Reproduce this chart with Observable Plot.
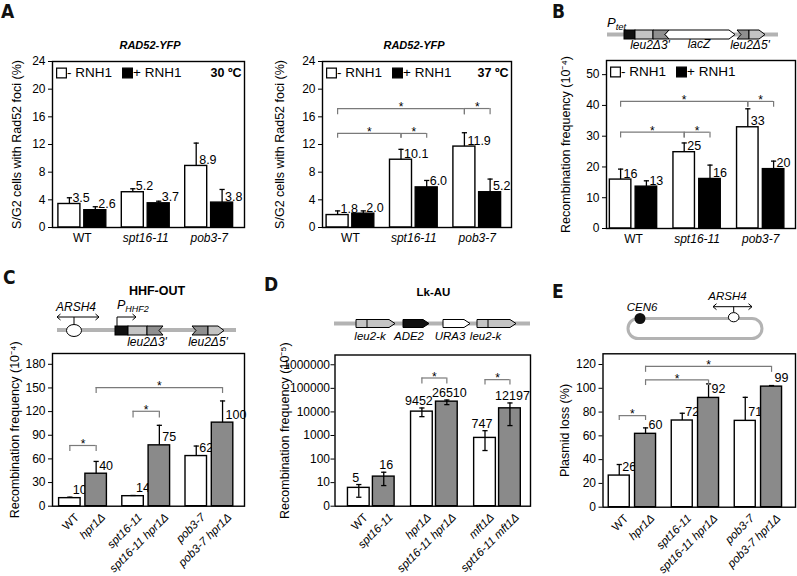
<!DOCTYPE html>
<html><head><meta charset="utf-8">
<script src="https://cdn.jsdelivr.net/npm/d3@7"></script>
<script src="https://cdn.jsdelivr.net/npm/@observablehq/plot@0.6"></script>
<style>
body{margin:0;background:#fff;}
#fig{position:relative;width:797px;height:576px;overflow:hidden;font-family:"Liberation Sans",Arial,Helvetica,sans-serif;background:#fff;}
#fig svg{position:absolute;}
</style></head><body><div id="fig">
<svg id="ov" width="797" height="576" style="left:0;top:0" font-family='"Liberation Sans", Arial, sans-serif'>
 <g font-family='"Liberation Sans Narrow","DejaVu Sans Condensed","Liberation Sans",sans-serif' font-weight="bold" font-size="19" fill="#111">
  <text x="1" y="18">A</text><text x="552" y="18">B</text><text x="3" y="284">C</text><text x="264" y="291">D</text><text x="552" y="298">E</text>
 </g>
 <g font-weight="bold" font-style="italic" font-size="11" text-anchor="middle">
  <text x="150" y="49">RAD52-YFP</text><text x="414" y="49">RAD52-YFP</text>
 </g>
 <text x="157" y="295" font-weight="bold" font-size="12.5" text-anchor="middle">HHF-OUT</text>
 <text x="433.5" y="296" font-weight="bold" font-size="11.5" text-anchor="middle">Lk-AU</text>
 <!-- B schematic -->
 <line x1="607" y1="34.5" x2="778" y2="34.5" stroke="#b3b3b3" stroke-width="4"/>
 <g stroke="#000" stroke-width="1">
  <rect x="624" y="30" width="11" height="9" fill="#111"/>
  <rect x="635" y="30" width="18" height="9" fill="#c4c4c4"/>
  <polygon points="653,30 669,30 665,34.5 669,39 653,39" fill="#8f8f8f"/>
  <polygon points="669,30 729,30 735,34.5 729,39 669,39 665,34.5" fill="#fff"/>
  <polygon points="737,30 749,30 749,39 737,39 741,34.5" fill="#8f8f8f"/>
  <polygon points="749,30 759,30 765,34.5 759,39 749,39" fill="#c4c4c4"/>
 </g>
 <g font-style="italic" font-size="12" text-anchor="middle">
  <text x="650" y="49">leu2Δ3'</text><text x="699" y="48">lacZ</text><text x="750" y="49">leu2Δ5'</text>
 </g>
 <text x="607" y="27" font-style="italic" font-size="13">P<tspan font-size="9.5" dy="3">tet</tspan></text>
 <!-- C schematic -->
 <line x1="57" y1="330" x2="236" y2="330" stroke="#b3b3b3" stroke-width="4"/>
 <g stroke="#000" stroke-width="1" fill="none">
  <line x1="74" y1="324.5" x2="74" y2="317"/>
  <line x1="57" y1="317" x2="99" y2="317"/>
  <polyline points="60.5,314 57,317 60.5,320"/><polyline points="95.5,314 99,317 95.5,320"/>
  <polyline points="117,326 117,317 136,317"/><polyline points="132.5,314 136,317 132.5,320"/>
 </g>
 <g stroke="#000" stroke-width="1">
  <ellipse cx="74" cy="330.5" rx="7.5" ry="6" fill="#fff"/>
  <rect x="115" y="326" width="13" height="9" fill="#111"/>
  <rect x="128" y="326" width="19" height="9" fill="#c4c4c4"/>
  <polygon points="147,326 163,326 159,330.5 163,335 147,335" fill="#8f8f8f"/>
  <polygon points="192,326 208,326 208,335 192,335 196,330.5" fill="#8f8f8f"/>
  <polygon points="208,326 218,326 224,330.5 218,335 208,335" fill="#c4c4c4"/>
 </g>
 <g font-style="italic" font-size="12" text-anchor="middle">
  <text x="76" y="311">ARSH4</text><text x="147" y="346">leu2Δ3'</text><text x="208" y="346">leu2Δ5'</text>
 </g>
 <text x="117" y="309" font-style="italic" font-size="12.5">P<tspan font-size="9" dy="3">HHF2</tspan></text>
 <!-- D schematic -->
 <line x1="334" y1="323.5" x2="530" y2="323.5" stroke="#b3b3b3" stroke-width="4"/>
 <g stroke="#000" stroke-width="1">
  <polygon points="356,319.5 389,319.5 395,323.5 389,327.5 356,327.5" fill="#c4c4c4"/>
  <line x1="367" y1="319.5" x2="367" y2="327.5"/>
  <polygon points="403,319.5 423,319.5 429,323.5 423,327.5 403,327.5" fill="#111"/>
  <polygon points="443,319.5 464,319.5 470,323.5 464,327.5 443,327.5" fill="#fff"/>
  <polygon points="477,319.5 510,319.5 516,323.5 510,327.5 477,327.5" fill="#c4c4c4"/>
  <line x1="488" y1="319.5" x2="488" y2="327.5"/>
 </g>
 <g font-style="italic" font-size="11.5" text-anchor="middle">
  <text x="370" y="339.5">leu2-k</text><text x="409" y="339.5">ADE2</text><text x="450" y="339.5">URA3</text><text x="485.5" y="339.5">leu2-k</text>
 </g>
 <!-- E schematic -->
 <rect x="628" y="318.5" width="134" height="20" rx="10" fill="none" stroke="#b3b3b3" stroke-width="3"/>
 <circle cx="640" cy="318.5" r="5.5" fill="#111"/>
 <g stroke="#000" stroke-width="1" fill="none">
  <line x1="733.7" y1="312.5" x2="733.7" y2="306.7"/>
  <line x1="713" y1="306.7" x2="752" y2="306.7"/>
  <polyline points="716.5,303.7 713,306.7 716.5,309.7"/><polyline points="748.5,303.7 752,306.7 748.5,309.7"/>
 </g>
 <ellipse cx="733.7" cy="317.2" rx="5.3" ry="4.6" fill="#fff" stroke="#000" stroke-width="1"/>
 <g font-style="italic" font-size="11.5" text-anchor="middle">
  <text x="642" y="310.5">CEN6</text><text x="727.5" y="300">ARSH4</text>
 </g>
</svg>
</div>
<script>
// ---------------- data ----------------
const strainsAB = ["WT", "spt16-11", "pob3-7"];
const rnh1Series = ["- RNH1", "+ RNH1"];
// order per strain: [- RNH1, + RNH1]
const a30Values = [3.4, 2.5, 5.1, 3.5, 8.9, 3.6];
const a30ErrTop = [4.3, 3.0, 5.6, 3.8, 12.2, 5.5];
const a30Labels = ["3.5", "2.6", "5.2", "3.7", "8.9", "3.8"];

const a37Values = [1.8, 2.0, 9.8, 5.8, 11.7, 5.1];
const a37ErrTop = [2.4, 2.4, 11.3, 6.8, 13.7, 7.0];
const a37Labels = ["1.8", "2.0", "10.1", "6.0", "11.9", "5.2"];
const a37Brackets = [[0, 4, 17.2, 16.3], [4, 5, 17.2, 16.3], [0, 2, 13.6, 12.9], [2, 3, 13.6, 12.9]];

const bValues = [15.9, 13.6, 24.8, 16.1, 32.9, 19.3];
const bErrTop = [19.3, 15.5, 27.8, 20.6, 38.9, 21.9];
const bLabels = ["16", "13", "25", "16", "33", "20"];
const bBrackets = [[0, 4, 41.3, 39.4], [4, 5, 41.3, 39.4], [0, 2, 31.3, 29.4], [2, 3, 31.3, 29.4]];

const cStrains = ["WT", "hpr1Δ", "spt16-11", "spt16-11 hpr1Δ", "pob3-7", "pob3-7 hpr1Δ"];
const cValues = [10.2, 41.2, 12.7, 77.2, 63.6, 106];
const cErrTop = [11.5, 56.8, 13.6, 102.6, 76.3, 133.5];
const cLabels = ["10", "40", "14", "75", "62", "100"];
const cBrackets = [[0, 1, 77, 69.5], [2, 3, 120.4, 112], [1, 5, 150.5, 143]];

const dStrains = ["WT", "spt16-11", "hpr1Δ", "spt16-11 hpr1Δ", "mft1Δ", "spt16-11 mft1Δ"];
const dValues = [6.0, 18, 10300, 27300, 790, 14200];
const dErrLow = [2.4, 7.5, 6300, 20400, 230, 2630];
const dErrTop = [8.3, 27.6, 14700, 32000, 1600, 24000];
const dLabels = ["5", "16", "9452", "26510", "747", "12197"];
const dBrackets = [[2, 3, 275000, 154000], [4, 5, 234000, 139000]];

const eStrains = ["WT", "hpr1Δ", "spt16-11", "spt16-11 hpr1Δ", "pob3-7", "pob3-7 hpr1Δ"];
const eValues = [26.6, 61.7, 72.9, 91.9, 72.6, 101.4];
const eErrTop = [35.9, 66.7, 79, 103.7, 92.4, 102.3];
const eLabels = ["26", "60", "72", "92", "71", "99"];
const eBrackets = [[0, 1, 77, 72.9], [1, 3, 107, 102.3], [1, 5, 118.5, 113.4]];

const ticksA = [0, 4, 8, 12, 16, 20, 24];
const ticksB = [0, 10, 20, 30, 40, 50];
const ticksC = [0, 30, 60, 90, 120, 150, 180];
const ticksD = [1, 10, 100, 1000, 10000, 100000, 1000000];
const ticksE = [0, 20, 40, 60, 80, 100, 120];

// ---------------- drawing ----------------
const FONT = '"Liberation Sans", Arial, Helvetica, sans-serif';
const GREY = "#8a8a8a";
const BRK = "#7a7a7a";
const capSym = {draw(ctx) { ctx.moveTo(-2.6, 0); ctx.lineTo(2.6, 0); }};
const keysAB = strainsAB.flatMap(s => rnh1Series.map(r => s + " " + r));
const namesAB = strainsAB.flatMap(s => rnh1Series.map(() => s));

function panel(o) {
  const L = o.layout;
  const n = o.values.length;
  const rows = o.values.map((v, i) => ({
    key: o.keys[i], name: o.names[i], series: i % 2, value: v,
    top: o.errTop[i], low: o.errLow ? o.errLow[i] : v, label: o.labels[i]
  }));
  const dOf = s => (s === 0 ? L.d : -L.d);
  const base = o.log ? 1 : 0;
  const marks = [];
  for (const s of [0, 1]) {
    const r = rows.filter(d => d.series === s);
    const dx = dOf(s);
    marks.push(
      Plot.barY(r, {x: "key", y1: base, y2: "value", fill: s === 0 ? "white" : o.fill2, stroke: "black", strokeWidth: 1.4, dx}),
      Plot.ruleX(r, {x: "key", y1: o.errLow ? "low" : "value", y2: "top", stroke: "black", strokeWidth: 1.3, dx}),
      Plot.dot(r, {x: "key", y: "top", symbol: capSym, stroke: "black", strokeWidth: 1.3, fill: "none", dx})
    );
    if (o.errLow) marks.push(Plot.dot(r, {x: "key", y: "low", symbol: capSym, stroke: "black", strokeWidth: 1.3, fill: "none", dx}));
    const ldx = Array.isArray(o.labelDx) ? o.labelDx[s] : o.labelDx;
    marks.push(Plot.text(r, {x: "key", y: o.labelAt, text: "label", textAnchor: o.labelAnchor, lineAnchor: "bottom",
      dx: dx + ldx, dy: o.labelDy, fontSize: 12.5, fill: "black"}));
  }
  // category labels
  if (o.rotate) {
    for (const s of [0, 1]) for (const roman of [true, false]) {
      const r = rows.filter(d => d.series === s && (d.name === "WT") === roman);
      if (!r.length) continue;
      marks.push(Plot.text(r, {x: "key", text: "name", frameAnchor: "bottom", rotate: -45, textAnchor: "end", lineAnchor: "top",
        dx: dOf(s) + 4, dy: 6, fontSize: 11.5, fontStyle: roman ? "normal" : "italic", fill: "black"}));
    }
  } else {
    for (const roman of [true, false]) {
      const r = rows.filter(d => d.series === 0 && (d.name === "WT") === roman);
      marks.push(Plot.text(r, {x: "key", text: "name", frameAnchor: "bottom", lineAnchor: "top",
        dx: dOf(0) + (L.step - 2 * L.d) / 2, dy: 6, fontSize: 12, fontStyle: roman ? "normal" : "italic", fill: "black"}));
    }
  }
  // significance brackets
  for (const [i, j, level, low] of o.brackets || []) {
    const b = {from: o.keys[i], to: o.keys[j], level, low};
    const di = dOf(i % 2), dj = dOf(j % 2);
    marks.push(
      Plot.ruleY([b], {y: "level", x1: "from", x2: "to", insetLeft: L.bw / 2 + di, insetRight: L.bw / 2 - dj, stroke: BRK, strokeWidth: 1.2}),
      Plot.ruleX([b], {x: "from", y1: "level", y2: "low", dx: di, stroke: BRK, strokeWidth: 1.2}),
      Plot.ruleX([b], {x: "to", y1: "level", y2: "low", dx: dj, stroke: BRK, strokeWidth: 1.2}),
      Plot.text([b], {x: "from", y: "level", text: () => "*", dx: (di + (j - i) * L.step + dj) / 2, dy: -1, lineAnchor: "middle", fontSize: 12, fill: "black"})
    );
  }
  // legend
  if (o.legend) {
    marks.push(
      Plot.dot([0], {frameAnchor: "top-left", dx: 9, dy: 11.5, symbol: "square", r: 5.5, fill: "white", stroke: "black", strokeWidth: 1.2}),
      Plot.text([rnh1Series[0]], {frameAnchor: "top-left", dx: 14.5, dy: 11.5, textAnchor: "start", lineAnchor: "middle", fontSize: 13.5, fill: "black"}),
      Plot.dot([0], {frameAnchor: "top-left", dx: 75, dy: 11.5, symbol: "square", r: 5.5, fill: "black", stroke: "black", strokeWidth: 1.2}),
      Plot.text([rnh1Series[1]], {frameAnchor: "top-left", dx: 80.5, dy: 11.5, textAnchor: "start", lineAnchor: "middle", fontSize: 13.5, fill: "black"})
    );
    if (o.temp) marks.push(Plot.text([o.temp], {frameAnchor: "top-right", dx: -3, dy: 11.5, textAnchor: "end", lineAnchor: "middle", fontWeight: "bold", fontSize: 12.5, fill: "black"}));
  }
  // axes, label, frame
  marks.push(
    Plot.axisY({ticks: o.ticks, tickSize: 4, tickPadding: o.tickPadding ?? 3, label: null, fontSize: 12,
      tickFormat: o.tickFormat, fill: "black", stroke: "black"}),
    Plot.text([o.ylabel], {frameAnchor: "left", rotate: -90, dx: L.ylDx, textAnchor: "middle", lineAnchor: "middle", fontSize: 12.5, fill: "black"}),
    Plot.frame({stroke: "black", strokeWidth: 1.4})
  );
  const svg = Plot.plot({
    width: L.w, height: L.h,
    marginLeft: L.mL, marginRight: L.mR, marginTop: L.mT, marginBottom: L.mB,
    x: {type: "band", domain: o.keys, range: [L.c0 - L.bw / 2, L.c0 + (n - 1) * L.step + L.bw / 2],
        paddingInner: 1 - L.bw / L.step, paddingOuter: 0, round: false, axis: null},
    y: {type: o.log ? "log" : "linear", domain: o.yDomain},
    style: {fontFamily: FONT, fontSize: "12px", color: "black", background: "transparent", overflow: "visible"},
    marks
  });
  svg.style.left = L.left + "px";
  svg.style.top = L.top + "px";
  document.getElementById("fig").appendChild(svg);
}

const fmtD = d => (d === 1 ? "0" : d3.format("d")(d));

panel({layout: {left: 0, top: 0, w: 262, h: 262, mL: 52, mR: 18, mT: 61, mB: 35, c0: 66, step: 31.7, bw: 22, d: 2.9, ylDx: -36},
  keys: keysAB, names: namesAB, values: a30Values, errTop: a30ErrTop, labels: a30Labels, fill2: "black",
  labelAt: "value", labelAnchor: "start", labelDx: 3, labelDy: -2, yDomain: [0, 24], ticks: ticksA,
  ylabel: "S/G2 cells with Rad52 foci (%)", legend: true, temp: "30 ºC"});

panel({layout: {left: 270, top: 0, w: 262, h: 262, mL: 52, mR: 21, mT: 61, mB: 35, c0: 64.1, step: 31.7, bw: 22, d: 3, ylDx: -43},
  keys: keysAB, names: namesAB, values: a37Values, errTop: a37ErrTop, labels: a37Labels, fill2: "black", brackets: a37Brackets,
  labelAt: "value", labelAnchor: "start", labelDx: 3, labelDy: -2, yDomain: [0, 24], ticks: ticksA,
  ylabel: "S/G2 cells with Rad52 foci (%)", legend: true, temp: "37 ºC"});

panel({layout: {left: 545, top: 0, w: 252, h: 262, mL: 61, mR: 2, mT: 60, mB: 34, c0: 72.1, step: 31.8, bw: 21.5, d: 3, ylDx: -41},
  keys: keysAB, names: namesAB, values: bValues, errTop: bErrTop, labels: bLabels, fill2: "black", brackets: bBrackets,
  labelAt: "value", labelAnchor: "start", labelDx: 3, labelDy: -2, yDomain: [0, 54.6], ticks: ticksB,
  ylabel: "Recombination frequency (10⁻⁴)", legend: true});

panel({layout: {left: 0, top: 290, w: 262, h: 286, mL: 52, mR: 18, mT: 63, mB: 70.3, c0: 66.7, step: 31.6, bw: 21.5, d: 2.65, ylDx: -38},
  keys: cStrains, names: cStrains, values: cValues, errTop: cErrTop, labels: cLabels, fill2: GREY, brackets: cBrackets, rotate: true,
  labelAt: "value", labelAnchor: "start", labelDx: 3, labelDy: -4, yDomain: [0, 193.7], ticks: ticksC,
  ylabel: "Recombination frequency (10⁻⁴)"});

panel({layout: {left: 270, top: 290, w: 262, h: 286, mL: 64.5, mR: 2, mT: 64.5, mB: 70.3, c0: 85, step: 31.55, bw: 21.7, d: 3.3, ylDx: -50.5},
  keys: dStrains, names: dStrains, values: dValues, errTop: dErrTop, errLow: dErrLow, labels: dLabels, fill2: GREY, brackets: dBrackets, rotate: true,
  labelAt: "top", labelAnchor: "middle", labelDx: [-3, 2.5], labelDy: -3, yDomain: [1, 2.6e6], log: true, ticks: ticksD, tickFormat: fmtD, tickPadding: 1,
  ylabel: "Recombination frequency (10⁻⁵)"});

panel({layout: {left: 545, top: 290, w: 252, h: 286, mL: 57.5, mR: 2, mT: 63.3, mB: 69.3, c0: 71.15, step: 31.5, bw: 21, d: 2.6, ylDx: -38.5},
  keys: eStrains, names: eStrains, values: eValues, errTop: eErrTop, labels: eLabels, fill2: GREY, brackets: eBrackets, rotate: true,
  labelAt: "value", labelAnchor: "start", labelDx: 3, labelDy: -5, yDomain: [0, 129], ticks: ticksE,
  ylabel: "Plasmid loss (%)"});
</script>
</body></html>
